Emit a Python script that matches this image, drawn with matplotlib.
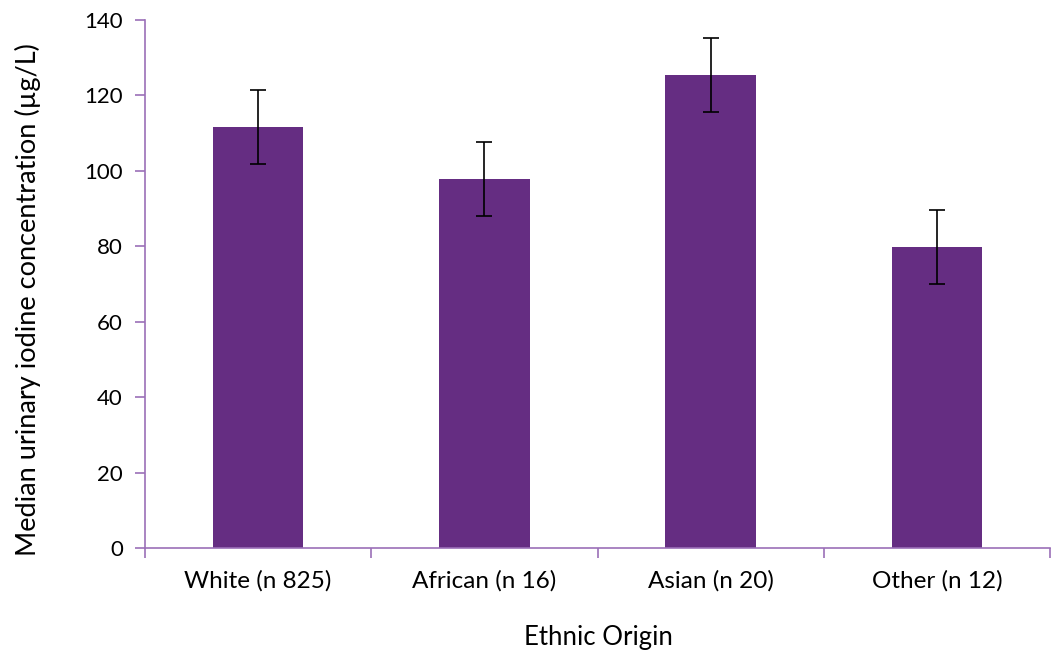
import numpy as np
import matplotlib.pyplot as plt

categories = ['White (n 825)', 'African (n 16)', 'Asian (n 20)', 'Other (n 12)']
medians = [111.7, 97.9, 125.4, 79.9]
errors = [9.8, 9.8, 9.8, 9.8]

plt.rcParams['font.family'] = ['Lato', 'DejaVu Sans']

bar_col = '#652D82'
axis_col = '#9B6FB8'

W, H = 1051, 652
fig = plt.figure(figsize=(W/100, H/100), dpi=100)
ax = fig.add_axes([145/W, 1 - 548/H, (1050-145)/W, (548-20)/H])

x = np.arange(len(categories)) + 0.5
ax.bar(x, medians, width=0.4, color=bar_col, zorder=2)
ax.errorbar(x, medians, yerr=errors, fmt='none', ecolor='black', elinewidth=1.2,
            capsize=6, capthick=1.2, zorder=3)

ax.set_xlim(0, len(categories))
ax.set_ylim(0, 140)
ax.set_yticks(np.arange(0, 141, 20))
ax.set_xticks(np.arange(0, len(categories) + 1))
ax.set_xticklabels([])
ax.set_xticks(x, minor=True)
ax.set_xticklabels(categories, minor=True, fontsize=17.5)
ax.tick_params(axis='x', which='minor', length=0, pad=16)
ax.tick_params(axis='x', which='major', direction='out', length=7, color=axis_col, width=1.2)
ax.tick_params(axis='y', direction='out', length=7, color=axis_col, width=1.2, labelsize=16, pad=9)

for s in ['top', 'right']:
    ax.spines[s].set_visible(False)
for s in ['left', 'bottom']:
    ax.spines[s].set_color(axis_col)
    ax.spines[s].set_linewidth(1.2)

# axis titles placed in figure pixels
fig.text(28/W, 1 - 300/H, 'Median urinary iodine concentration (\u00b5g/L)', fontsize=19.5,
         rotation=90, ha='center', va='center')
fig.text(598/W, 1 - 637/H, 'Ethnic Origin', fontsize=18.5, ha='center', va='center')

fig.savefig('out.png', dpi=100)
